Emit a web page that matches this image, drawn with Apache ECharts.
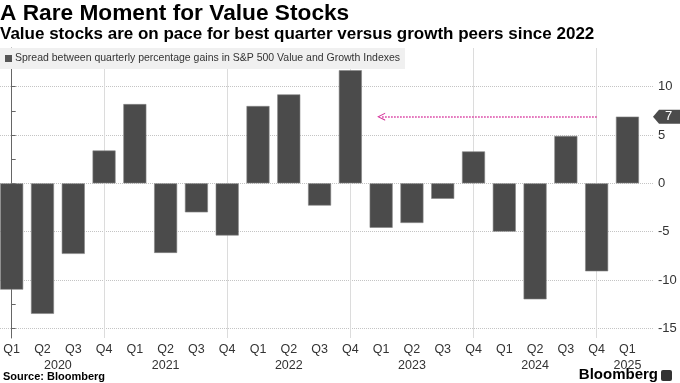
<!DOCTYPE html>
<html>
<head>
<meta charset="utf-8">
<script src="https://cdn.jsdelivr.net/npm/echarts@6/dist/echarts.min.js"></script>
<style>
html,body{margin:0;padding:0;background:#fff;}
#chart{width:680px;height:383px;}
</style>
</head>
<body>
<div id="chart"></div>
<script>
const quarterLabels = ['Q1','Q2','Q3','Q4','Q1','Q2','Q3','Q4','Q1','Q2','Q3','Q4','Q1','Q2','Q3','Q4','Q1','Q2','Q3','Q4','Q1'];
const spreadValues = [-11.0,-13.5,-7.3,3.4,8.2,-7.2,-3.0,-5.4,8.0,9.2,-2.3,11.7,-4.6,-4.1,-1.6,3.3,-5.0,-12.0,4.9,-9.1,6.9];
const yearLabels = ['2020','2021','2022','2023','2024','2025'];
const yearPositions = [1.5,5,9,13,17,20];
const yearGridPositions = [3,7,11,15,19];
const yLabelValues = [-15,-10,-5,0,5,10];
const yTickValues = [-15,-12.5,-10,-7.5,-5,-2.5,0,2.5,5,7.5,10,12.5];
const arrowFrom = 19, arrowTo = 12;
const seriesName = 'Spread between quarterly percentage gains in S&P 500 Value and Growth Indexes';

const lastIndex = spreadValues.length - 1;
const lastValue = spreadValues[lastIndex];
const X_MIN = -0.38, X_MAX = 20.83;
const FONT = '"Liberation Sans", Arial, sans-serif';

const chart = echarts.init(document.getElementById('chart'), null, {renderer:'canvas'});
chart.setOption({
  animation: false,
  backgroundColor: '#fff',
  title: [
    {text:'A Rare Moment for Value Stocks', left:0, top:2, padding:0,
     textStyle:{fontSize:22.7, fontWeight:'bold', color:'#000', fontFamily:FONT}},
    {text:'Value stocks are on pace for best quarter versus growth peers since 2022', left:0, top:26, padding:0,
     textStyle:{fontSize:17, fontWeight:'bold', color:'#000', fontFamily:FONT}}
  ],
  legend: {
    data:[seriesName], left:0, top:48, icon:'rect', itemWidth:7, itemHeight:7, itemGap:4,
    itemStyle:{borderWidth:0, color:'#555'},
    backgroundColor:'#f0f0f0', padding:[5,5,5,5],
    textStyle:{fontSize:10.5, color:'#333', fontFamily:FONT, padding:[0,0,0,-2]}
  },
  grid: {left:0, right:27, top:48, bottom:45},
  xAxis: [
    {type:'value', min:X_MIN, max:X_MAX, position:'bottom',
     axisLine:{show:false}, axisTick:{show:false, customValues:quarterLabels.map((q,i)=>i)},
     axisLabel:{customValues:quarterLabels.map((q,i)=>i), formatter:v=>quarterLabels[Math.round(v)], color:'#333', fontSize:12.5, fontFamily:FONT, margin:5},
     splitLine:{show:false}},
    {type:'value', min:X_MIN, max:X_MAX, position:'bottom',
     axisLine:{show:false}, axisTick:{show:false, customValues:yearPositions},
     axisLabel:{customValues:yearPositions, formatter:v=>yearLabels[yearPositions.indexOf(v)], color:'#333', fontSize:12.5, fontFamily:FONT, margin:21},
     splitLine:{show:false}},
    {type:'value', min:X_MIN, max:X_MAX, position:'bottom',
     axisLine:{show:false}, axisTick:{show:false, customValues:yearGridPositions},
     axisLabel:{show:false, customValues:yearGridPositions},
     splitLine:{show:true, lineStyle:{color:'#dcdcdc', width:1}}}
  ],
  yAxis: [
    {type:'value', position:'right', min:-16, max:14,
     axisLine:{show:true, lineStyle:{color:'#666', width:1}},
     axisTick:{show:true, customValues:yTickValues, length:4, lineStyle:{color:'#666'}},
     axisLabel:{customValues:yLabelValues, color:'#333', fontSize:13, fontFamily:FONT, margin:5},
     splitLine:{show:false}},
    {type:'value', position:'right', min:-16, max:14,
     axisLine:{show:false}, axisTick:{show:false, customValues:yLabelValues},
     axisLabel:{show:false, customValues:yLabelValues},
     splitLine:{show:true, lineStyle:{color:'#c4c4c4', type:'dotted', width:1}}}
  ],
  series: [{
    name: seriesName, type:'bar', xAxisIndex:0, yAxisIndex:0, barWidth:23,
    data: spreadValues.map((v,i)=>[i,v]),
    itemStyle:{color:'#4b4b4b', borderColor:'#858585', borderWidth:0.6},
    markLine:{
      silent:true, symbol:['none','path://M0,10 L5,0 L10,10 L8.6,10 L5,2.6 L1.4,10 Z'], symbolSize:[8,8],
      lineStyle:{type:'dotted', color:'#d6309a', width:1.5}, label:{show:false},
      data:[[{coord:[arrowFrom,lastValue]},{coord:[arrowTo,lastValue]}]]
    },
    markPoint:{
      silent:true,
      symbol:'path://M0,7 L6,0 L27,0 L27,14 L6,14 Z', symbolSize:[27,14], symbolOffset:[13.5,0],
      itemStyle:{color:'#4b4b4b'},
      label:{show:true, color:'#fff', fontSize:13, fontFamily:FONT, offset:[2,0], formatter:p=>String(Math.round(p.value))},
      data:[{coord:[X_MAX,lastValue], value:lastValue}]
    }
  }],
  graphic: [
    {type:'text', left:3, top:371, style:{text:'Source: Bloomberg', font:'bold 11px '+FONT, fill:'#000'}},
    {type:'text', right:22, top:367, style:{text:'Bloomberg', font:'bold 15px '+FONT, fill:'#000'}},
    {type:'rect', right:8, top:370, shape:{width:11, height:11, r:2}, style:{fill:'#333'}}
  ]
});
</script>
</body>
</html>
